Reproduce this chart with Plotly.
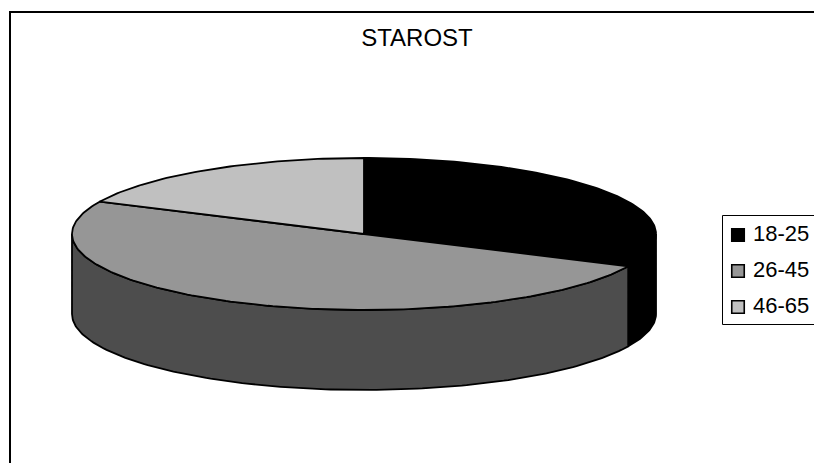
import numpy as np
import plotly.graph_objects as go

# Age groups and their shares (percent)
categories = ["18-25", "26-45", "46-65"]
values = [32, 50, 18]

top_colors = ["#000000", "#969696", "#C0C0C0"]
side_colors = ["#000000", "#4D4D4D", "#606060"]

WIDTH, HEIGHT = 814, 463
CX, CY = 364, 234      # centre of the upper ellipse
RX, RY = 292, 76       # radii of the upper ellipse
DEPTH = 80             # thickness of the disc
OUTLINE = dict(color="#000000", width=1.8)


def point(theta):
    """Clockwise angle from 12 o'clock (radians) to pixel position on the top ellipse."""
    return CX + RX * np.sin(theta), CY - RY * np.cos(theta)


def arc(a, b):
    n = max(2, int(abs(b - a) / np.radians(1.0)) + 1)
    return point(np.linspace(a, b, n))


fractions = np.array(values, dtype=float) / sum(values)
edges = np.concatenate([[0.0], np.cumsum(fractions)]) * 2 * np.pi

fig = go.Figure()

# Rim of the disc: only the part of each slice on the near half is visible
for i in range(len(values)):
    a = max(edges[i], np.pi / 2)
    b = min(edges[i + 1], 3 * np.pi / 2)
    if a >= b:
        continue
    x, y = arc(a, b)
    fig.add_trace(go.Scatter(
        x=np.concatenate([x, x[::-1], x[:1]]),
        y=np.concatenate([y, y[::-1] + DEPTH, y[:1]]),
        mode="lines", fill="toself", fillcolor=side_colors[i], line=OUTLINE,
        hoverinfo="skip", showlegend=False,
    ))

# Upper faces of the slices
for i in range(len(values)):
    x, y = arc(edges[i], edges[i + 1])
    fig.add_trace(go.Scatter(
        x=np.concatenate([[CX], x, [CX]]),
        y=np.concatenate([[CY], y, [CY]]),
        mode="lines", fill="toself", fillcolor=top_colors[i], line=OUTLINE,
        name=categories[i], hoverinfo="name", showlegend=False,
    ))

# Legend swatches with their labels
legend_rows = 235 + 36 * np.arange(len(categories))
fig.add_trace(go.Scatter(
    x=[738] * len(categories), y=legend_rows,
    mode="markers+text",
    marker=dict(symbol="square", size=12.5, color=top_colors,
                line=dict(color="#000000", width=1.6)),
    text=[" " + c for c in categories], textposition="middle right",
    textfont=dict(family="Liberation Sans, Arial, sans-serif", size=22, color="#000000"),
    hoverinfo="skip", showlegend=False,
))

fig.update_layout(
    width=WIDTH, height=HEIGHT,
    margin=dict(l=0, r=0, t=0, b=0),
    paper_bgcolor="#FFFFFF", plot_bgcolor="#FFFFFF",
    title=dict(
        text="STAROST", x=417 / WIDTH, y=1 - 38 / HEIGHT,
        xanchor="center", yanchor="middle",
        font=dict(family="Liberation Sans, Arial, sans-serif", size=24, color="#000000"),
    ),
    xaxis=dict(range=[0, WIDTH], visible=False, fixedrange=True),
    yaxis=dict(range=[HEIGHT, 0], visible=False, fixedrange=True),
    shapes=[
        # Chart frame, running off the right and lower edges
        dict(type="rect", x0=10, y0=12, x1=WIDTH + 40, y1=HEIGHT + 40, xref="x", yref="y",
             line=dict(color="#000000", width=2), layer="below"),
        # Legend box
        dict(type="rect", x0=722.5, y0=215.5, x1=WIDTH + 40, y1=324.5, xref="x", yref="y",
             line=dict(color="#000000", width=1), layer="below"),
    ],
)

fig.write_html("out.html")
